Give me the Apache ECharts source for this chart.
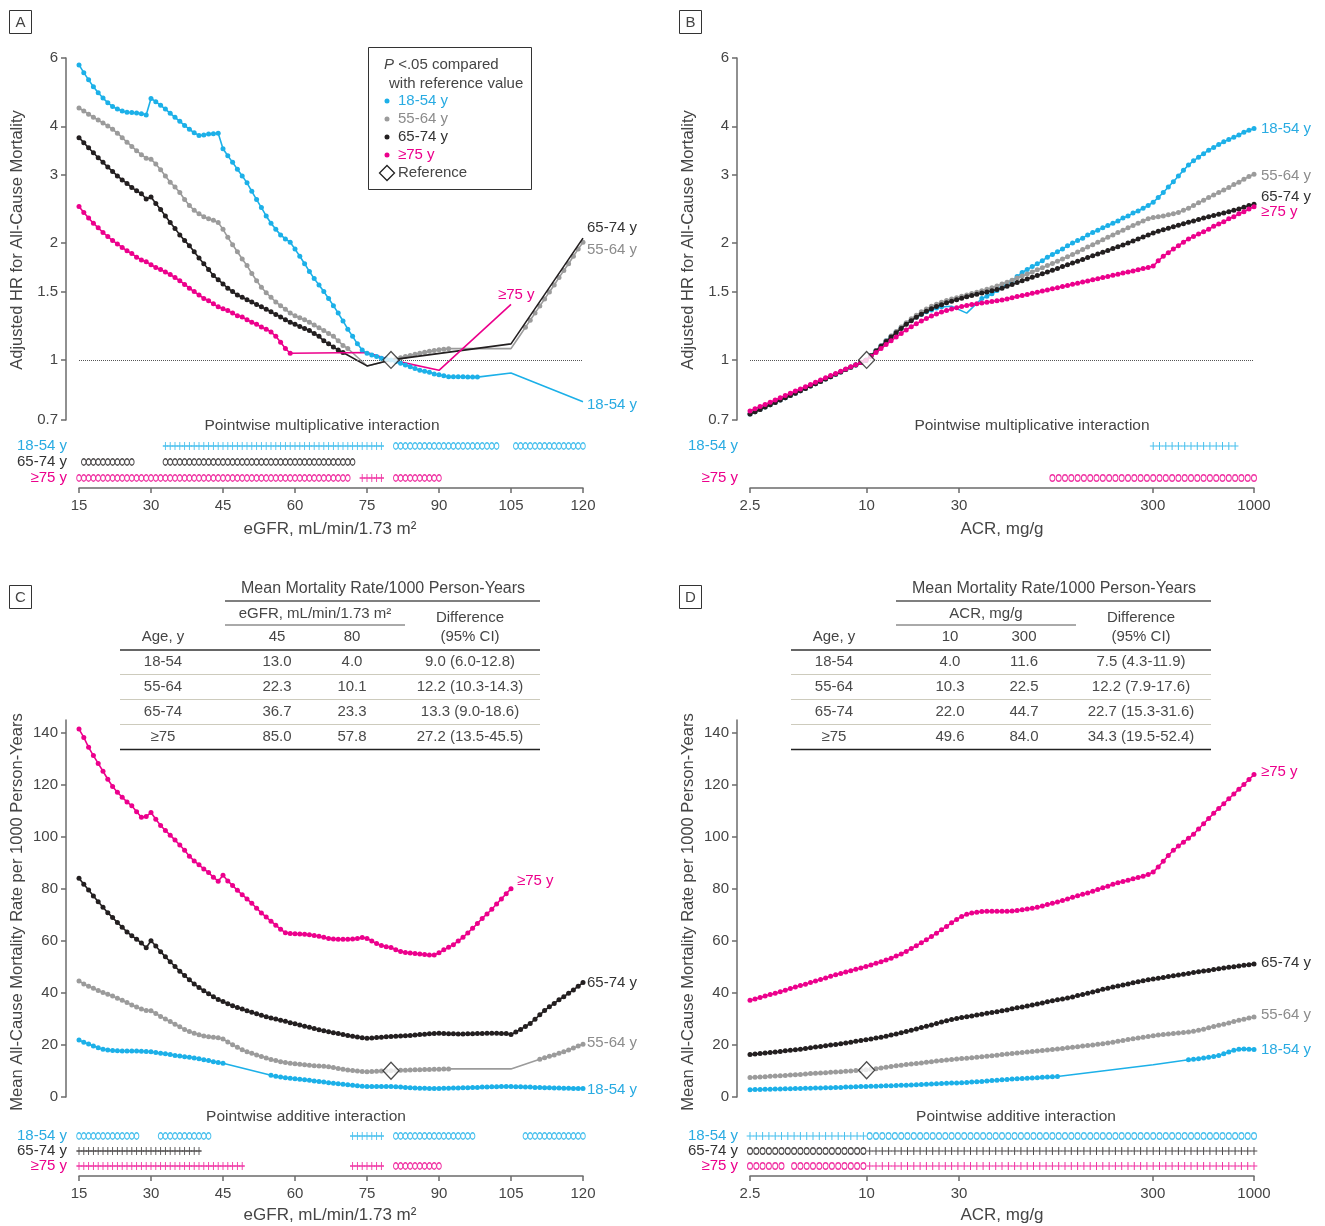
<!DOCTYPE html>
<html><head><meta charset="utf-8">
<script src="https://cdn.jsdelivr.net/npm/echarts@6/dist/echarts.min.js"></script>
<style>html,body{margin:0;padding:0;background:#fff}#c{width:1325px;height:1226px}</style>
</head><body><div id="c"></div><script>
const _ = null;
// ---------- x sampling grids ----------
const eGFR = Array.from({length:106},(v,i)=>15+i);               // 15..120
const ACR = Array.from({length:101},(v,k)=>2.5*Math.pow(400,k/100)); // 2.5..1000, log spaced
const ACR_INT = Array.from({length:81},(v,j)=>2.5*Math.pow(400,j/80));
const EGFR_INT = eGFR;
const HR_TICKS = [0.7,1,1.5,2,3,4,6];
const ACR_TICKS = [2.5,10,30,300,1000];
const RATE_TICKS = [0,20,40,60,80,100,120,140];

// ---------- Panel A : adjusted HR vs eGFR ----------
const A_1854 = [5.76,5.50,5.27,5.06,4.88,4.73,4.60,4.50,4.43,4.38,
 4.35,4.34,4.33,4.31,4.28,4.72,4.63,4.53,4.43,4.32,
 4.22,4.12,4.02,3.93,3.85,3.79,3.80,3.82,3.83,3.84,
 3.50,3.36,3.23,3.10,2.98,2.86,2.72,2.59,2.47,2.35,
 2.25,2.17,2.10,2.05,2.01,1.93,1.85,1.77,1.69,1.62,
 1.56,1.50,1.44,1.38,1.32,1.26,1.20,1.15,1.10,1.06,
 1.04,1.03,1.02,1.01,1.005,1.00,0.99,0.98,0.97,0.96,
 0.95,0.94,0.935,0.93,0.92,0.915,0.91,0.905,0.905,0.905,
 0.905,0.903,0.903,0.903,_,_,_,_,_,_,
 0.925,_,_,_,_,_,_,_,_,_,
 _,_,_,_,_,0.78];
const A_5564 = [4.46,4.38,4.30,4.22,4.15,4.08,4.01,3.93,3.84,3.74,
 3.64,3.55,3.46,3.38,3.31,3.29,3.20,3.09,2.98,2.87,
 2.79,2.70,2.59,2.50,2.43,2.38,2.34,2.31,2.29,2.26,
 2.17,2.07,1.98,1.90,1.82,1.75,1.67,1.60,1.54,1.49,
 1.45,1.41,1.38,1.35,1.32,1.30,1.285,1.27,1.25,1.23,
 1.21,1.19,1.17,1.15,1.12,1.09,1.07,_,_,_,
 0.965,_,_,_,_,1.00,1.006,1.013,1.02,1.027,
 1.034,1.04,1.046,1.052,1.057,1.062,1.066,1.069,_,_,
 _,_,_,_,_,_,_,_,_,_,
 1.069,1.115,1.163,1.213,1.265,1.32,1.376,1.435,1.497,1.56,
 1.63,1.70,1.77,1.85,1.93,2.01];
const A_6574 = [3.74,3.63,3.52,3.42,3.32,3.23,3.14,3.06,2.98,2.91,
 2.85,2.78,2.73,2.68,2.60,2.63,2.53,2.44,2.35,2.26,
 2.18,2.10,2.03,1.97,1.90,1.83,1.77,1.71,1.65,1.61,
 1.57,1.53,1.50,1.47,1.45,1.43,1.41,1.39,1.37,1.35,
 1.33,1.31,1.29,1.27,1.25,1.235,1.22,1.205,1.19,1.17,
 1.15,1.12,1.10,1.08,1.06,1.045,_,_,_,_,
 0.965,_,_,_,_,1.00,_,_,_,_,
 _,_,_,_,_,_,_,_,_,_,
 _,_,_,_,_,_,_,_,_,_,
 1.10,_,_,_,_,_,_,_,_,_,
 _,_,_,_,_,2.06];
const A_75 = [2.485,2.40,2.32,2.25,2.19,2.13,2.08,2.03,1.99,1.95,
 1.91,1.88,1.84,1.81,1.79,1.76,1.73,1.71,1.685,1.66,
 1.63,1.60,1.565,1.53,1.50,1.47,1.44,1.42,1.395,1.37,
 1.355,1.34,1.32,1.30,1.29,1.27,1.25,1.235,1.215,1.20,
 1.18,1.15,1.11,1.07,1.04,_,_,_,_,_,
 _,_,_,_,_,_,_,_,_,_,
 1.045,_,_,_,_,1.00,_,_,_,_,
 _,_,_,_,_,0.94,_,_,_,_,
 _,_,_,_,_,_,_,_,_,_,
 1.39,_,_,_,_,_,_,_,_,_,
 _,_,_,_,_,_];
// significant (dotted) eGFR ranges
const A_SIG_1854 = [[15,98]];
const A_SIG_5564 = [[15,71],[81,92],[108,120]];
const A_SIG_6574 = [[15,70]];
const A_SIG_75 = [[15,59]];

// ---------- Panel B : adjusted HR vs ACR (101 log-spaced points) ----------
const B_1854 = [0.725,0.735,0.745,0.756,0.766,0.777,0.788,0.799,0.810,0.821,
 0.833,0.844,0.856,0.868,0.880,0.893,0.905,0.918,0.931,0.944,
 0.957,0.970,0.984,0.998,1.026,1.057,1.088,1.12,1.15,1.18,
 1.21,1.24,1.265,1.29,1.31,1.33,1.345,1.36,1.37,_,
 1.375,_,_,1.32,_,_,1.44,1.46,1.48,1.51,
 1.54,1.57,1.60,1.64,1.68,1.71,1.74,1.77,1.80,1.84,
 1.87,1.90,1.93,1.97,2.00,2.03,2.06,2.10,2.13,2.16,
 2.19,2.22,2.25,2.28,2.32,2.35,2.39,2.42,2.46,2.50,
 2.55,2.62,2.70,2.79,2.88,2.98,3.08,3.18,3.26,3.33,
 3.40,3.47,3.53,3.59,3.65,3.70,3.75,3.80,3.86,3.91,3.95];
const B_5564 = [0.725,0.735,0.745,0.756,0.766,0.777,0.788,0.799,0.810,0.821,
 0.833,0.844,0.856,0.868,0.880,0.893,0.905,0.918,0.931,0.944,
 0.957,0.970,0.984,0.998,1.026,1.057,1.088,1.12,1.152,1.184,
 1.216,1.247,1.277,1.304,1.33,1.353,1.374,1.392,1.408,1.422,
 1.435,1.447,1.459,1.47,1.482,1.494,1.507,1.52,1.535,1.55,
 1.568,1.586,1.605,1.625,1.645,1.665,1.686,1.707,1.728,1.75,
 1.772,1.795,1.82,1.845,1.87,1.897,1.925,1.953,1.982,2.01,
 2.04,2.07,2.10,2.13,2.16,2.19,2.22,2.25,2.28,2.31,
 2.33,2.34,2.35,2.365,2.38,2.40,2.43,2.46,2.50,2.54,
 2.58,2.62,2.66,2.70,2.74,2.78,2.83,2.87,2.92,2.97,3.01];
const B_6574 = [0.725,0.735,0.745,0.756,0.766,0.777,0.788,0.799,0.810,0.821,
 0.833,0.844,0.856,0.868,0.880,0.893,0.905,0.918,0.931,0.944,
 0.957,0.970,0.984,0.998,1.025,1.055,1.085,1.115,1.145,1.175,
 1.205,1.235,1.262,1.288,1.312,1.334,1.354,1.372,1.388,1.403,
 1.417,1.43,1.442,1.454,1.465,1.476,1.487,1.497,1.507,1.518,
 1.531,1.548,1.565,1.582,1.60,1.617,1.634,1.651,1.668,1.686,
 1.703,1.721,1.74,1.758,1.777,1.796,1.815,1.835,1.855,1.875,
 1.895,1.915,1.936,1.957,1.978,2.0,2.025,2.05,2.075,2.10,
 2.125,2.145,2.165,2.185,2.205,2.225,2.245,2.265,2.28,2.30,
 2.32,2.34,2.355,2.375,2.39,2.41,2.43,2.45,2.475,2.50,2.52];
const B_75 = [0.738,0.748,0.758,0.768,0.778,0.788,0.799,0.809,0.820,0.831,
 0.842,0.853,0.864,0.876,0.887,0.899,0.911,0.923,0.935,0.947,
 0.960,0.972,0.985,0.998,1.02,1.045,1.07,1.095,1.12,1.145,
 1.17,1.195,1.218,1.24,1.26,1.279,1.297,1.313,1.328,1.341,
 1.352,1.362,1.372,1.381,1.389,1.396,1.402,1.408,1.414,1.42,
 1.427,1.436,1.446,1.456,1.465,1.475,1.485,1.495,1.505,1.515,
 1.525,1.535,1.545,1.555,1.566,1.576,1.587,1.597,1.608,1.619,
 1.63,1.641,1.652,1.663,1.674,1.685,1.696,1.708,1.719,1.731,
 1.745,1.80,1.85,1.89,1.93,1.97,2.01,2.05,2.08,2.11,
 2.14,2.17,2.21,2.24,2.27,2.31,2.34,2.38,2.41,2.45,2.48];
// significant ranges by point index (0..100)
const B_SIG_1854 = [[0,38],[46,100]];
const B_SIG_ALL = [[0,100]];

// ---------- Panel C : mortality rate vs eGFR ----------
const C_1854 = [21.9,21.1,20.4,19.6,18.9,18.4,18.1,17.9,17.8,17.7,
 17.7,17.7,17.7,17.6,17.5,17.4,17.1,16.8,16.6,16.3,
 16.0,15.8,15.5,15.3,15.0,14.7,14.3,14.0,13.6,13.3,
 13.0,_,_,_,_,_,_,_,_,_,
 8.4,8.0,7.7,7.4,7.2,7.0,6.8,6.6,6.4,6.2,
 6.0,5.8,5.5,5.3,5.1,4.9,4.7,4.5,4.3,4.1,
 4.0,4.0,4.0,4.0,4.0,4.0,3.9,3.8,3.7,3.6,
 3.5,3.4,3.4,3.3,3.3,3.3,3.4,3.4,3.5,3.5,
 3.6,3.6,3.7,3.7,3.8,3.8,3.9,3.9,4.0,4.0,
 4.0,3.9,3.9,3.8,3.8,3.7,3.7,3.6,3.6,3.5,
 3.5,3.4,3.4,3.3,3.3,3.3];
const C_5564 = [44.6,43.5,42.6,41.8,41.0,40.2,39.5,38.8,38.0,37.2,
 36.3,35.4,34.6,33.8,33.3,33.2,32.1,31.0,30.0,29.0,
 28.0,27.0,26.0,25.2,24.5,23.9,23.5,23.2,23.0,22.8,
 22.3,21.2,20.1,19.1,18.2,17.4,16.8,16.2,15.6,15.0,
 14.4,14.0,13.6,13.3,13.0,12.8,12.6,12.4,12.2,12.0,
 11.9,11.8,11.6,11.3,11.0,10.7,10.4,10.2,10.0,9.8,
 9.7,9.8,9.9,10.0,10.1,10.1,10.2,10.3,10.3,10.4,
 10.5,10.5,10.6,10.6,10.7,10.7,10.8,10.8,_,_,
 _,_,_,_,_,_,_,_,_,_,
 10.8,_,_,_,_,_,14.5,15.1,15.7,16.2,
 16.8,17.4,18.1,18.8,19.6,20.3];
const C_6574 = [84.1,81.8,79.6,77.3,75.1,73.0,70.9,69.0,67.1,65.3,
 63.5,62.0,60.7,59.2,57.4,60.1,58.1,55.9,53.9,52.0,
 50.2,48.4,46.7,45.1,43.5,42.1,40.9,39.7,38.6,37.5,
 36.7,35.9,35.1,34.4,33.8,33.2,32.6,32.0,31.4,30.9,
 30.4,30.0,29.5,29.1,28.6,28.2,27.7,27.2,26.8,26.3,
 25.9,25.5,25.1,24.7,24.4,24.0,23.7,23.4,23.1,22.8,
 22.6,22.7,22.9,23.0,23.2,23.3,23.4,23.5,23.6,23.7,
 23.8,24.0,24.1,24.3,24.4,24.5,24.4,24.3,24.3,24.2,
 24.2,24.3,24.3,24.4,24.4,24.5,24.5,24.5,24.4,24.4,
 24.0,25.0,26.0,27.1,28.3,29.9,31.6,33.3,34.7,36.0,
 37.4,38.6,39.9,41.2,42.6,44.0];
const C_75 = [141.5,138.3,134.5,131.3,128.3,125.3,122.2,119.4,117.2,115.3,
 113.5,112.0,109.7,107.6,107.9,109.4,106.8,104.4,102.5,100.7,
 98.8,96.9,94.9,92.6,90.8,89.3,87.7,86.3,84.5,83.0,
 85.3,83.1,81.3,79.5,77.8,76.2,74.5,72.6,70.8,69.2,
 67.6,66.1,64.5,63.2,62.9,62.8,62.7,62.6,62.4,62.1,
 61.8,61.4,61.0,60.8,60.7,60.7,60.7,60.8,61.0,61.3,
 61.0,60.0,59.0,58.3,57.8,57.5,56.6,56.0,55.6,55.4,
 55.2,55.0,54.8,54.6,54.6,55.5,56.6,57.6,58.6,60.0,
 61.4,63.1,64.9,66.7,68.7,70.4,72.2,74.2,76.2,78.2,
 80.1];
const C_SIG_1854 = [[15,45],[55,120]];
const C_SIG_5564 = [[15,92],[111,120]];
const C_SIG_6574 = [[15,120]];
const C_SIG_75 = [[15,105]];

// ---------- Panel D : mortality rate vs ACR ----------
const D_1854 = [2.8,2.85,2.9,2.95,3.0,3.05,3.1,3.15,3.2,3.25,
 3.3,3.35,3.4,3.45,3.5,3.55,3.6,3.65,3.7,3.8,
 3.85,3.9,4.0,4.05,4.1,4.15,4.2,4.3,4.35,4.4,
 4.5,4.55,4.6,4.7,4.8,4.9,5.0,5.1,5.2,5.3,
 5.35,5.4,5.5,5.6,5.75,5.9,6.0,6.15,6.3,6.45,
 6.6,6.75,6.9,7.0,7.1,7.2,7.3,7.4,7.55,7.7,
 7.8,7.9,_,_,_,_,_,_,_,_,
 _,_,_,_,_,_,_,_,_,_,
 12.4,_,_,_,_,_,_,14.3,14.5,14.7,
 15.0,15.3,15.6,16.0,16.6,17.3,18.0,18.4,18.5,18.4,18.3];
const D_5564 = [7.5,7.6,7.7,7.8,8.0,8.1,8.2,8.3,8.5,8.6,
 8.7,8.8,9.0,9.1,9.2,9.3,9.5,9.6,9.7,9.9,
 10.0,10.2,10.3,10.5,10.7,10.9,11.2,11.4,11.7,12.0,
 12.2,12.5,12.7,12.9,13.1,13.4,13.6,13.8,14.0,14.2,
 14.4,14.6,14.8,14.9,15.1,15.3,15.5,15.7,15.9,16.1,
 16.3,16.5,16.7,16.9,17.1,17.3,17.5,17.7,17.9,18.1,
 18.3,18.5,18.7,18.9,19.1,19.3,19.6,19.8,20.0,20.3,
 20.5,20.8,21.1,21.4,21.7,22.1,22.4,22.7,23.0,23.3,
 23.6,23.8,24.0,24.2,24.4,24.6,24.8,25.0,25.3,25.7,
 26.1,26.6,27.1,27.6,28.0,28.5,29.0,29.5,29.9,30.4,30.8];
const D_6574 = [16.3,16.5,16.7,16.9,17.1,17.3,17.5,17.8,18.0,18.2,
 18.4,18.7,18.9,19.2,19.4,19.7,20.0,20.2,20.5,20.8,
 21.1,21.4,21.7,22.0,22.3,22.7,23.0,23.4,23.8,24.2,
 24.7,25.2,25.7,26.2,26.7,27.2,27.7,28.3,28.8,29.3,
 29.8,30.2,30.6,30.9,31.2,31.5,31.8,32.2,32.5,32.8,
 33.2,33.5,33.9,34.3,34.6,35.0,35.4,35.8,36.2,36.6,
 37.0,37.4,37.7,38.1,38.5,39.0,39.4,39.9,40.4,40.9,
 41.4,41.8,42.3,42.7,43.1,43.5,43.9,44.3,44.7,45.1,
 45.4,45.7,46.0,46.3,46.6,46.9,47.2,47.5,47.9,48.2,
 48.5,48.7,49.0,49.3,49.6,49.9,50.1,50.4,50.7,50.9,51.2];
const D_75 = [37.2,37.7,38.3,38.8,39.4,39.9,40.5,41.1,41.7,42.3,
 42.9,43.4,44.0,44.6,45.2,45.8,46.4,47.0,47.5,48.1,
 48.6,49.1,49.6,50.2,50.8,51.4,52.0,52.7,53.4,54.2,
 55.0,56.0,57.1,58.2,59.3,60.5,61.7,63.0,64.3,65.6,
 67.0,68.3,69.4,70.3,70.8,71.1,71.3,71.4,71.4,71.4,
 71.4,71.4,71.5,71.7,72.0,72.3,72.6,73.0,73.5,74.0,
 74.5,75.0,75.6,76.2,76.8,77.4,78.0,78.5,79.1,79.8,
 80.5,81.1,81.8,82.4,82.9,83.4,83.9,84.4,84.9,85.6,
 86.5,88.5,90.7,92.9,94.9,96.5,98.0,99.5,101.1,103.1,
 105.1,107.1,109.1,111.0,112.8,114.7,116.5,118.4,120.2,122.1,124.0];
const D_SIG_1854 = [[0,61],[87,100]];
const D_SIG_ALL = [[0,100]];

// ---------- reference points ----------
const REF_EGFR = 80, REF_ACR = 10, REF_HR = 1, REF_RATE_C = 10.1, REF_RATE_D = 10.3;

// ---------- pointwise interaction rows: [symbol, from, to] ----------
const IA_1854 = [['+',33,78],['o',81,102],['o',106,120]];
const IA_6574 = [['o',16,26],['o',33,72]];
const IA_75   = [['o',15,71],['+',74,78],['o',81,90]];
const IB_1854 = [['+',290,830]];
const IB_75   = [['o',91,1000]];
const IC_1854 = [['o',15,27],['o',32,42],['+',72,78],['o',81,97],['o',108,120]];
const IC_6574 = [['+',15,40]];
const IC_75   = [['+',15,49],['+',72,78],['o',81,90]];
const ID_1854 = [['+',2.5,9.7],['o',10.2,1000]];
const ID_6574 = [['o',2.5,9.7],['+',10.2,1000]];
const ID_75   = [['o',2.5,3.7],['o',4.0,9.7],['+',10.2,1000]];

// ---------- tables ----------
const TBL_AGE = ['18-54','55-64','65-74','≥75'];
const TC_45 = ['13.0','22.3','36.7','85.0'];
const TC_80 = ['4.0','10.1','23.3','57.8'];
const TC_DIFF = ['9.0 (6.0-12.8)','12.2 (10.3-14.3)','13.3 (9.0-18.6)','27.2 (13.5-45.5)'];
const TD_10 = ['4.0','10.3','22.0','49.6'];
const TD_300 = ['11.6','22.5','44.7','84.0'];
const TD_DIFF = ['7.5 (4.3-11.9)','12.2 (7.9-17.6)','22.7 (15.3-31.6)','34.3 (19.5-52.4)'];

// ================= rendering =================
const COL = {b:'#1cb0e8', g:'#9b9b9b', k:'#231f20', p:'#ec008c'};
const LBL = {b:'#29abe2', g:'#8c8c8c', k:'#333333', p:'#ec008c'};
const TXT = '#454545', AX = '#6b6b6b';
const FONT = '"Liberation Sans", Arial, sans-serif';

function curve(xs, ys, sig, byIndex, color, ax, z){
  const data = [];
  xs.forEach((x,i)=>{
    const y = ys[i]; if (y == null || i >= ys.length) return;
    const key = byIndex ? i : x;
    const on = sig.some(r => key >= r[0]-1e-9 && key <= r[1]+1e-9);
    data.push(on ? [x,y] : {value:[x,y], symbol:'none'});
  });
  return {type:'line', xAxisIndex:ax, yAxisIndex:ax, data, symbol:'circle', symbolSize:5,
    showSymbol:true, lineStyle:{color, width:1.6}, itemStyle:{color}, z, silent:true};
}
const CROSS = 'path://M0,4L6,4M3,0L3,8';
function marks(grid, ranges, rowY, color, ax, w){
  const circ=[], cross=[];
  grid.forEach(x=>{
    ranges.forEach(r=>{ if (x >= r[1]-1e-9 && x <= r[2]+1e-9) (r[0]==='o'?circ:cross).push([x,rowY]); });
  });
  return [
    {type:'scatter', xAxisIndex:ax, yAxisIndex:ax, data:circ, symbol:'circle', symbolSize:[Math.min(w-0.2,5),6.5],
     itemStyle:{color:'#fff', borderColor:color, borderWidth:1.1}, silent:true, z:5},
    {type:'scatter', xAxisIndex:ax, yAxisIndex:ax, data:cross, symbol:CROSS, symbolKeepAspect:false,
     symbolSize:[w+0.4,8], itemStyle:{color:'none', borderColor:color, borderWidth:1.1}, silent:true, z:5}
  ];
}
function refPoint(x,y,ax){
  return {type:'scatter', xAxisIndex:ax, yAxisIndex:ax, data:[[x,y]], symbol:'diamond', symbolSize:[16,17],
    itemStyle:{color:'#fff', borderColor:'#222', borderWidth:1.3}, z:20, silent:true};
}
const fmt = v => String(+(+v).toPrecision(3));
const axLine = {show:true, lineStyle:{color:AX, width:1.5}};
function xHidden(gi, log){ return log ? {type:'log', gridIndex:gi, min:2.5, max:1000, show:false}
  : {type:'value', gridIndex:gi, min:15, max:120, show:false}; }
function xEgfr(gi){ return {type:'value', gridIndex:gi, min:15, max:120, interval:15, axisLine:axLine,
  axisTick:{show:true, length:5, lineStyle:{color:AX, width:1.5}}, splitLine:{show:false},
  axisLabel:{color:TXT, fontSize:15, margin:10, fontFamily:FONT}}; }
function xAcr(gi){ return {type:'log', gridIndex:gi, min:2.5, max:1000, axisLine:axLine,
  axisTick:{show:true, length:5, lineStyle:{color:AX, width:1.5}, customValues:ACR_TICKS},
  minorTick:{show:false}, splitLine:{show:false},
  axisLabel:{color:TXT, fontSize:15, margin:10, fontFamily:FONT, customValues:ACR_TICKS, formatter:fmt}}; }
function yHR(gi){ return {type:'log', gridIndex:gi, min:0.7, max:6, offset:13, axisLine:axLine,
  axisTick:{show:true, length:5, lineStyle:{color:AX, width:1.5}, customValues:HR_TICKS},
  minorTick:{show:false}, splitLine:{show:false},
  axisLabel:{color:TXT, fontSize:15, margin:8, fontFamily:FONT, customValues:HR_TICKS, formatter:fmt}}; }
function yRate(gi){ return {type:'value', gridIndex:gi, min:0, max:145, offset:13, axisLine:axLine,
  axisTick:{show:true, length:5, lineStyle:{color:AX, width:1.5}, customValues:RATE_TICKS},
  splitLine:{show:false},
  axisLabel:{color:TXT, fontSize:15, margin:8, fontFamily:FONT, customValues:RATE_TICKS}}; }
function yHidden(gi){ return {type:'value', gridIndex:gi, min:0, max:50, show:false}; }

const series = [];
// A
series.push(curve(eGFR, A_5564, A_SIG_5564, false, COL.g, 0, 2));
series.push(curve(eGFR, A_6574, A_SIG_6574, false, COL.k, 0, 3));
series.push(curve(eGFR, A_75, A_SIG_75, false, COL.p, 0, 4));
series.push(curve(eGFR, A_1854, A_SIG_1854, false, COL.b, 0, 5));
const refA = refPoint(REF_EGFR, REF_HR, 0);
refA.markLine = {silent:true, symbol:'none', label:{show:false}, lineStyle:{type:'dotted', color:'#555', width:1}, data:[{yAxis:REF_HR}]};
series.push(refA);
series.push(...marks(EGFR_INT, IA_1854, 42, COL.b, 1, 4.8));
series.push(...marks(EGFR_INT, IA_6574, 26, COL.k, 1, 4.8));
series.push(...marks(EGFR_INT, IA_75, 10, COL.p, 1, 4.8));
// B
series.push(curve(ACR, B_1854, B_SIG_1854, true, COL.b, 2, 2));
series.push(curve(ACR, B_5564, B_SIG_ALL, true, COL.g, 2, 3));
series.push(curve(ACR, B_6574, B_SIG_ALL, true, COL.k, 2, 4));
series.push(curve(ACR, B_75, B_SIG_ALL, true, COL.p, 2, 5));
const refB = refPoint(REF_ACR, REF_HR, 2);
refB.markLine = {silent:true, symbol:'none', label:{show:false}, lineStyle:{type:'dotted', color:'#555', width:1}, data:[{yAxis:REF_HR}]};
series.push(refB);
series.push(...marks(ACR_INT, IB_1854, 42, COL.b, 3, 6.3));
series.push(...marks(ACR_INT, IB_75, 10, COL.p, 3, 6.3));
// C
series.push(curve(eGFR, C_1854, C_SIG_1854, false, COL.b, 4, 2));
series.push(curve(eGFR, C_5564, C_SIG_5564, false, COL.g, 4, 3));
series.push(curve(eGFR, C_6574, C_SIG_6574, false, COL.k, 4, 4));
series.push(curve(eGFR, C_75, C_SIG_75, false, COL.p, 4, 5));
series.push(refPoint(REF_EGFR, REF_RATE_C, 4));
series.push(...marks(EGFR_INT, IC_1854, 40, COL.b, 5, 4.8));
series.push(...marks(EGFR_INT, IC_6574, 25, COL.k, 5, 4.8));
series.push(...marks(EGFR_INT, IC_75, 10, COL.p, 5, 4.8));
// D
series.push(curve(ACR, D_1854, D_SIG_1854, true, COL.b, 6, 2));
series.push(curve(ACR, D_5564, D_SIG_ALL, true, COL.g, 6, 3));
series.push(curve(ACR, D_6574, D_SIG_ALL, true, COL.k, 6, 4));
series.push(curve(ACR, D_75, D_SIG_ALL, true, COL.p, 6, 5));
series.push(refPoint(REF_ACR, REF_RATE_D, 6));
series.push(...marks(ACR_INT, ID_1854, 40, COL.b, 7, 6.3));
series.push(...marks(ACR_INT, ID_6574, 25, COL.k, 7, 6.3));
series.push(...marks(ACR_INT, ID_75, 10, COL.p, 7, 6.3));

// ---------- text / decorations ----------
function T(x, y, text, o){
  o = o || {};
  return {type:'text', x, y, rotation:o.rot||0, silent:true, z:50,
    style:{text, fill:o.color||TXT, fontSize:o.size||15, fontFamily:FONT, fontStyle:o.italic?'italic':'normal',
      align:o.align||'left', verticalAlign:'middle', rich:o.rich}};
}
function L(x1,y1,x2,y2,stroke,w){ return {type:'line', silent:true, z:50, shape:{x1,y1,x2,y2}, style:{stroke, lineWidth:w}}; }
function box(x,y,letter){ return [
  {type:'rect', silent:true, z:50, shape:{x, y, width:22, height:23}, style:{fill:'none', stroke:'#333', lineWidth:1}},
  T(x+11, y+12, letter, {align:'center', size:15})]; }

const G = [];
G.push(...box(9.5,10.5,'A'), ...box(679.5,10.5,'B'), ...box(9.5,585.5,'C'), ...box(679.5,585.5,'D'));
// axis titles
G.push(T(17,240,'Adjusted HR for All-Cause Mortality',{rot:Math.PI/2, align:'center', size:16.5}));
G.push(T(688,240,'Adjusted HR for All-Cause Mortality',{rot:Math.PI/2, align:'center', size:16.5}));
G.push(T(17,912,'Mean All-Cause Mortality Rate per 1000 Person-Years',{rot:Math.PI/2, align:'center', size:16.5}));
G.push(T(688,912,'Mean All-Cause Mortality Rate per 1000 Person-Years',{rot:Math.PI/2, align:'center', size:16.5}));
G.push(T(330,529,'eGFR, mL/min/1.73 m²',{align:'center', size:17}));
G.push(T(1002,529,'ACR, mg/g',{align:'center', size:17}));
G.push(T(330,1215,'eGFR, mL/min/1.73 m²',{align:'center', size:17}));
G.push(T(1002,1215,'ACR, mg/g',{align:'center', size:17}));
// interaction titles and row labels
G.push(T(322,426,'Pointwise multiplicative interaction',{align:'center', size:15.5}));
G.push(T(1032,426,'Pointwise multiplicative interaction',{align:'center', size:15.5}));
G.push(T(306,1117,'Pointwise additive interaction',{align:'center', size:15.5}));
G.push(T(1016,1117,'Pointwise additive interaction',{align:'center', size:15.5}));
[[67,446,'18-54 y',LBL.b],[67,462,'65-74 y',LBL.k],[67,478,'≥75 y',LBL.p],
 [738,446,'18-54 y',LBL.b],[738,478,'≥75 y',LBL.p],
 [67,1136,'18-54 y',LBL.b],[67,1151,'65-74 y',LBL.k],[67,1166,'≥75 y',LBL.p],
 [738,1136,'18-54 y',LBL.b],[738,1151,'65-74 y',LBL.k],[738,1166,'≥75 y',LBL.p]]
 .forEach(r=>G.push(T(r[0],r[1],r[2],{align:'right', color:r[3]})));
// curve end labels
[[587,228,'65-74 y',LBL.k],[587,250,'55-64 y',LBL.g],[498,295,'≥75 y',LBL.p],[587,405,'18-54 y',LBL.b],
 [1261,129,'18-54 y',LBL.b],[1261,176,'55-64 y',LBL.g],[1261,197,'65-74 y',LBL.k],[1261,212,'≥75 y',LBL.p],
 [517,881,'≥75 y',LBL.p],[587,983,'65-74 y',LBL.k],[587,1043,'55-64 y',LBL.g],[587,1090,'18-54 y',LBL.b],
 [1261,772,'≥75 y',LBL.p],[1261,963,'65-74 y',LBL.k],[1261,1015,'55-64 y',LBL.g],[1261,1050,'18-54 y',LBL.b]]
 .forEach(r=>G.push(T(r[0],r[1],r[2],{color:r[3]})));
// legend (panel A)
G.push({type:'rect', silent:true, z:50, shape:{x:368.5,y:47.5,width:163,height:142}, style:{fill:'#fff', stroke:'#333', lineWidth:1}});
G.push(T(384,65,'{i|P} <.05 compared',{rich:{i:{fontStyle:'italic', fontSize:15, fontFamily:FONT, fill:TXT}}}));
G.push(T(389,84,'with reference value'));
[[101,'18-54 y','b'],[119,'55-64 y','g'],[137,'65-74 y','k'],[155,'≥75 y','p']].forEach(r=>{
  G.push({type:'circle', silent:true, z:51, shape:{cx:387, cy:r[0], r:2.5}, style:{fill:COL[r[2]]}});
  G.push(T(398, r[0], r[1], {color:LBL[r[2]]}));
});
G.push({type:'polygon', silent:true, z:51, shape:{points:[[387,165.5],[394.5,173],[387,180.5],[379.5,173]]}, style:{fill:'#fff', stroke:'#222', lineWidth:1.3}});
G.push(T(398,173,'Reference'));
// tables
function table(dx, head2, c1h, c2h, v1, v2, diff, underL, underR, c1x, c2x){
  const ageX = 163+dx, diffX = 470+dx;
  G.push(T(383+dx,589,'Mean Mortality Rate/1000 Person-Years',{align:'center', size:16}));
  G.push(L(225+dx,601,540+dx,601,'#555',1.3));
  G.push(T((underL+underR)/2,614,head2,{align:'center'}));
  G.push(L(underL,625,underR,625,'#555',1));
  G.push(T(diffX,618,'Difference',{align:'center'}));
  G.push(T(diffX,637,'(95% CI)',{align:'center'}));
  G.push(T(ageX,637,'Age, y',{align:'center'}));
  G.push(T(c1x,637,c1h,{align:'center'}));
  G.push(T(c2x,637,c2h,{align:'center'}));
  G.push(L(120+dx,650,540+dx,650,'#333',1.5));
  TBL_AGE.forEach((a,i)=>{
    const y = 662 + i*25;
    G.push(T(ageX,y,a,{align:'center', color:'#4a4a4a'}));
    G.push(T(c1x,y,v1[i],{align:'center', color:'#4a4a4a'}));
    G.push(T(c2x,y,v2[i],{align:'center', color:'#4a4a4a'}));
    G.push(T(diffX,y,diff[i],{align:'center', color:'#4a4a4a'}));
    if (i<3) G.push(L(120+dx,674.5+i*25,540+dx,674.5+i*25,'#cdcbbd',1));
  });
  G.push(L(120+dx,749.5,540+dx,749.5,'#222',1.5));
}
table(0,'eGFR, mL/min/1.73 m²','45','80',TC_45,TC_80,TC_DIFF,225,405,277,352);
table(671,'ACR, mg/g','10','300',TD_10,TD_300,TD_DIFF,896,1076,950,1024);

const option = {
  animation:false,
  textStyle:{fontFamily:FONT},
  grid:[
    {left:79, top:58, width:504, height:362},
    {left:79, top:438, width:504, height:50},
    {left:750, top:58, width:504, height:362},
    {left:750, top:438, width:504, height:50},
    {left:79, top:720, width:504, height:377},
    {left:79, top:1126, width:504, height:50},
    {left:750, top:720, width:504, height:377},
    {left:750, top:1126, width:504, height:50}
  ],
  xAxis:[xHidden(0,false), xEgfr(1), xHidden(2,true), xAcr(3), xHidden(4,false), xEgfr(5), xHidden(6,true), xAcr(7)],
  yAxis:[yHR(0), yHidden(1), yHR(2), yHidden(3), yRate(4), yHidden(5), yRate(6), yHidden(7)],
  series,
  graphic:{elements:G}
};
const chart = echarts.init(document.getElementById('c'), null, {renderer:'canvas'});
chart.setOption(option);
</script></body></html>
